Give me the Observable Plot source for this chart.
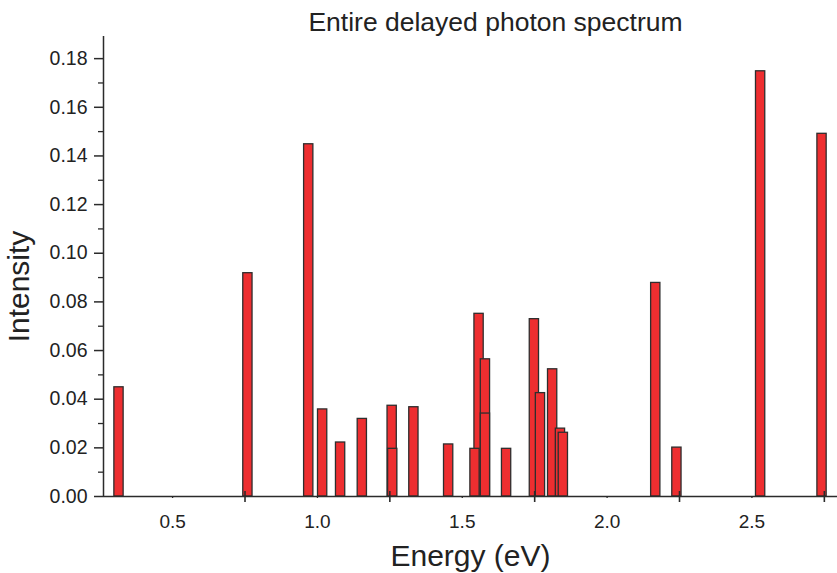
<!DOCTYPE html>
<html>
<head>
<meta charset="utf-8">
<script src="https://cdn.jsdelivr.net/npm/d3@7"></script>
<script src="https://cdn.jsdelivr.net/npm/@observablehq/plot@0.6"></script>
<style>
  html, body { margin: 0; padding: 0; background: #fff; }
</style>
</head>
<body>
<div id="chart"></div>
<script>
// Peak energies (eV) and intensities
const energies = [0.315, 0.760, 0.970, 1.018, 1.080, 1.155, 1.258, 1.260, 1.333, 1.453,
                  1.544, 1.558, 1.580, 1.580, 1.653, 1.749, 1.770, 1.812, 1.839, 1.849,
                  2.168, 2.241, 2.530, 2.742];
const intensities = [0.0449, 0.0918, 0.1448, 0.0358, 0.0222, 0.0319, 0.0373, 0.0196, 0.0367, 0.0214,
                     0.0196, 0.0751, 0.0564, 0.0341, 0.0196, 0.0729, 0.0425, 0.0523, 0.0279, 0.0262,
                     0.0878, 0.0201, 0.1748, 0.1491];

const yMajorTicks = [0, 0.02, 0.04, 0.06, 0.08, 0.10, 0.12, 0.14, 0.16, 0.18];
const yMinorTicks = [0.01, 0.03, 0.05, 0.07, 0.09, 0.11, 0.13, 0.15, 0.17];
const xLabelTicks = [0.5, 1.0, 1.5, 2.0, 2.5];
const xMajorTicks = [0.75, 1.25, 1.75, 2.25, 2.75];

const title = "Entire delayed photon spectrum";
const xLabel = "Energy (eV)";
const yLabel = "Intensity";

const halfWidth = 0.016;
const bars = d3.sort(energies.map((e, i) => ({e, v: intensities[i]})), d => -d.v);

const axisColor = "#2b2b2b";
const font = "'Liberation Sans', Arial, sans-serif";

const chart = Plot.plot({
  width: 837,
  height: 573,
  marginLeft: 103,
  marginRight: 0,
  marginTop: 36,
  marginBottom: 77,
  style: {fontFamily: font, color: "#222", background: "#fff"},
  x: {domain: [0.2615, 2.7954]},
  y: {domain: [0, 0.1891]},
  marks: [
    Plot.rectY(bars, {
      x1: d => d.e - halfWidth,
      x2: d => d.e + halfWidth,
      y1: 0,
      y2: "v",
      fill: "#ee2e30",
      stroke: "#2e2e2e",
      strokeWidth: 1.3
    }),
    // axis lines
    Plot.ruleY([0], {stroke: axisColor, strokeWidth: 1.5}),
    Plot.ruleX([0.2615], {stroke: axisColor, strokeWidth: 1.5}),
    // y axis
    Plot.axisY({ticks: yMajorTicks, tickSize: 9, tickPadding: 7, tickFormat: d3.format(".2f"),
                fontSize: 19.5, stroke: axisColor, strokeWidth: 1.5, label: null}),
    Plot.axisY({ticks: yMinorTicks, tickSize: 5, tickFormat: () => "", stroke: axisColor,
                strokeWidth: 1.3, label: null}),
    // x axis labels with tiny ticks
    Plot.axisX({ticks: xLabelTicks, tickSize: 2, tickPadding: 16, tickFormat: d3.format(".1f"),
                fontSize: 19, stroke: axisColor, strokeWidth: 1.3, label: null}),
    // crossing major ticks
    Plot.ruleX(xMajorTicks, {x: d => d, insetTop: 455, insetBottom: -6, stroke: axisColor, strokeWidth: 1.6}),
    // texts
    Plot.text([title], {frameAnchor: "top", lineAnchor: "bottom", dx: 25, dy: -6,
                        fontSize: 26.5, fill: "#222"}),
    Plot.text([xLabel], {frameAnchor: "bottom", lineAnchor: "bottom", dy: 69,
                         fontSize: 30, fill: "#222"}),
    Plot.text([yLabel], {frameAnchor: "left", textAnchor: "middle", lineAnchor: "bottom", rotate: -90,
                         dx: -75, dy: 20, fontSize: 30, fill: "#222"})
  ]
});
document.getElementById("chart").appendChild(chart);
</script>
</body>
</html>
